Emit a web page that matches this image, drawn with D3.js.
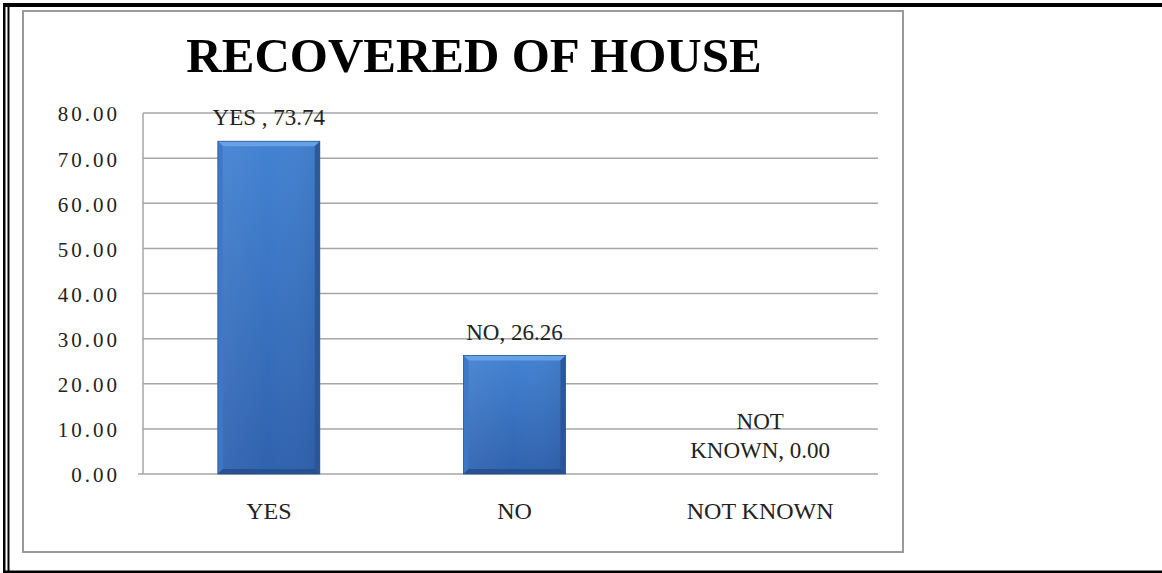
<!DOCTYPE html>
<html>
<head>
<meta charset="utf-8">
<script src="https://cdn.jsdelivr.net/npm/d3@7/dist/d3.min.js"></script>
<style>
  html, body { margin: 0; padding: 0; background: #ffffff; }
  svg { display: block; }
</style>
</head>
<body>
<script>
// ---- data ----
const categories = ["YES", "NO", "NOT KNOWN"];
const values = [73.74, 26.26, 0.00];
const dataLabels = [["YES , 73.74"], ["NO, 26.26"], ["NOT", "KNOWN, 0.00"]];
const yTicks = [0, 10, 20, 30, 40, 50, 60, 70, 80];
const titleText = "RECOVERED OF HOUSE";

// ---- layout ----
const W = 1162, H = 573;
const plot = { left: 143, right: 878, top: 113, bottom: 474 };

const svg = d3.select("body").append("svg").attr("width", W).attr("height", H);
const defs = svg.append("defs");

const grad = defs.append("linearGradient").attr("id", "barGrad")
  .attr("x1", 0).attr("y1", 0).attr("x2", 0).attr("y2", 1);
grad.append("stop").attr("offset", "0%").attr("stop-color", "#4382d2");
grad.append("stop").attr("offset", "100%").attr("stop-color", "#2f62ae");

const gradH = defs.append("linearGradient").attr("id", "barGradH")
  .attr("x1", 0).attr("y1", 0).attr("x2", 1).attr("y2", 0);
gradH.append("stop").attr("offset", "0%").attr("stop-color", "#ffffff").attr("stop-opacity", 0.06);
gradH.append("stop").attr("offset", "50%").attr("stop-color", "#ffffff").attr("stop-opacity", 0.0);
gradH.append("stop").attr("offset", "100%").attr("stop-color", "#000000").attr("stop-opacity", 0.06);

// outer black frame
svg.append("rect").attr("x", 3).attr("y", 3).attr("width", W - 3).attr("height", 4).attr("fill", "#000");
svg.append("rect").attr("x", 3).attr("y", 3).attr("width", 2.5).attr("height", H - 3).attr("fill", "#000");
svg.append("rect").attr("x", 7.5).attr("y", 3).attr("width", 2).attr("height", H - 3).attr("fill", "#000");
svg.append("rect").attr("x", 3).attr("y", 570.5).attr("width", W - 3).attr("height", 2.5).attr("fill", "#000");

// chart area border
svg.append("rect").attr("x", 23).attr("y", 11).attr("width", 880).attr("height", 541)
  .attr("fill", "#ffffff").attr("stroke", "#9a9a9a").attr("stroke-width", 2);

// scales
const x = d3.scaleBand().domain(categories).range([146, 883]).paddingInner(0).paddingOuter(0);
const y = d3.scaleLinear().domain([0, 80]).range([plot.bottom, plot.top]);
const barW = x.bandwidth() * 0.415;

// gridlines
const grid = svg.append("g");
grid.selectAll("line").data(yTicks).join("line")
  .attr("x1", d => d === 0 ? plot.left - 5 : plot.left)
  .attr("x2", plot.right)
  .attr("y1", d => y(d)).attr("y2", d => y(d))
  .attr("stroke", "#a6a6a6").attr("stroke-width", 1.5);
// vertical axis line
svg.append("line").attr("x1", plot.left).attr("x2", plot.left)
  .attr("y1", y(80)).attr("y2", y(0)).attr("stroke", "#a6a6a6").attr("stroke-width", 1.5);

// y axis labels
const fmt = d3.format(".2f");
const yAxis = d3.axisLeft(y).tickValues(yTicks).tickFormat(fmt).tickSize(0).tickPadding(0);
const yg = svg.append("g").attr("transform", `translate(${117 + 3},0)`).call(yAxis);
yg.select(".domain").remove();
yg.selectAll("text")
  .attr("font-family", "'Liberation Serif', 'Times New Roman', serif")
  .attr("font-size", 21).attr("fill", "#222")
  .attr("letter-spacing", 3)
  .attr("dy", "0.38em");

// bars
const bars = svg.append("g");
categories.forEach((c, i) => {
  const v = values[i];
  const bx = x(c) + (x.bandwidth() - barW) / 2;
  const by = y(v);
  const bh = y(0) - y(v);
  if (bh <= 0) return;
  const g = bars.append("g");
  g.append("rect").attr("x", bx).attr("y", by).attr("width", barW).attr("height", bh)
    .attr("fill", "url(#barGrad)");
  g.append("rect").attr("x", bx).attr("y", by).attr("width", barW).attr("height", bh)
    .attr("fill", "url(#barGradH)");
  const b = 5;
  // top bevel
  g.append("polygon")
    .attr("points", [[bx, by], [bx + barW, by], [bx + barW - b, by + b], [bx + b, by + b]].map(p => p.join(",")).join(" "))
    .attr("fill", "#6aa4e8").attr("opacity", 0.9);
  // left bevel
  g.append("polygon")
    .attr("points", [[bx, by], [bx + b, by + b], [bx + b, by + bh - b], [bx, by + bh]].map(p => p.join(",")).join(" "))
    .attr("fill", "#3d78c6").attr("opacity", 0.9);
  // right bevel
  g.append("polygon")
    .attr("points", [[bx + barW, by], [bx + barW, by + bh], [bx + barW - b, by + bh - b], [bx + barW - b, by + b]].map(p => p.join(",")).join(" "))
    .attr("fill", "#2a5597").attr("opacity", 0.9);
  // bottom bevel
  g.append("polygon")
    .attr("points", [[bx, by + bh], [bx + b, by + bh - b], [bx + barW - b, by + bh - b], [bx + barW, by + bh]].map(p => p.join(",")).join(" "))
    .attr("fill", "#264f8e").attr("opacity", 0.9);
  g.append("rect").attr("x", bx).attr("y", by).attr("width", barW).attr("height", bh)
    .attr("fill", "none").attr("stroke", "#2b5693").attr("stroke-width", 0.8);
});

// data labels
const labelFont = "'Liberation Serif', 'Times New Roman', serif";
categories.forEach((c, i) => {
  const cx = x(c) + x.bandwidth() / 2;
  const lines = dataLabels[i];
  const baseY = y(values[i]) - 16;
  const t = svg.append("text").attr("text-anchor", "middle")
    .attr("font-family", labelFont).attr("font-size", 23).attr("fill", "#222");
  lines.forEach((ln, j) => {
    t.append("tspan").attr("x", cx).attr("y", baseY - (lines.length - 1 - j) * 29).text(ln);
  });
});

// x axis labels
const xAxis = d3.axisBottom(x).tickSize(0).tickPadding(0);
const xg = svg.append("g").attr("transform", `translate(0,519)`).call(xAxis);
xg.select(".domain").remove();
xg.selectAll("text")
  .attr("font-family", labelFont).attr("font-size", 24).attr("fill", "#222")
  .attr("dy", 0).attr("y", 0);

// title
svg.append("text").attr("x", 474).attr("y", 72).attr("text-anchor", "middle")
  .attr("font-family", labelFont).attr("font-weight", "bold").attr("font-size", 49)
  .attr("fill", "#000").text(titleText);
</script>
</body>
</html>
